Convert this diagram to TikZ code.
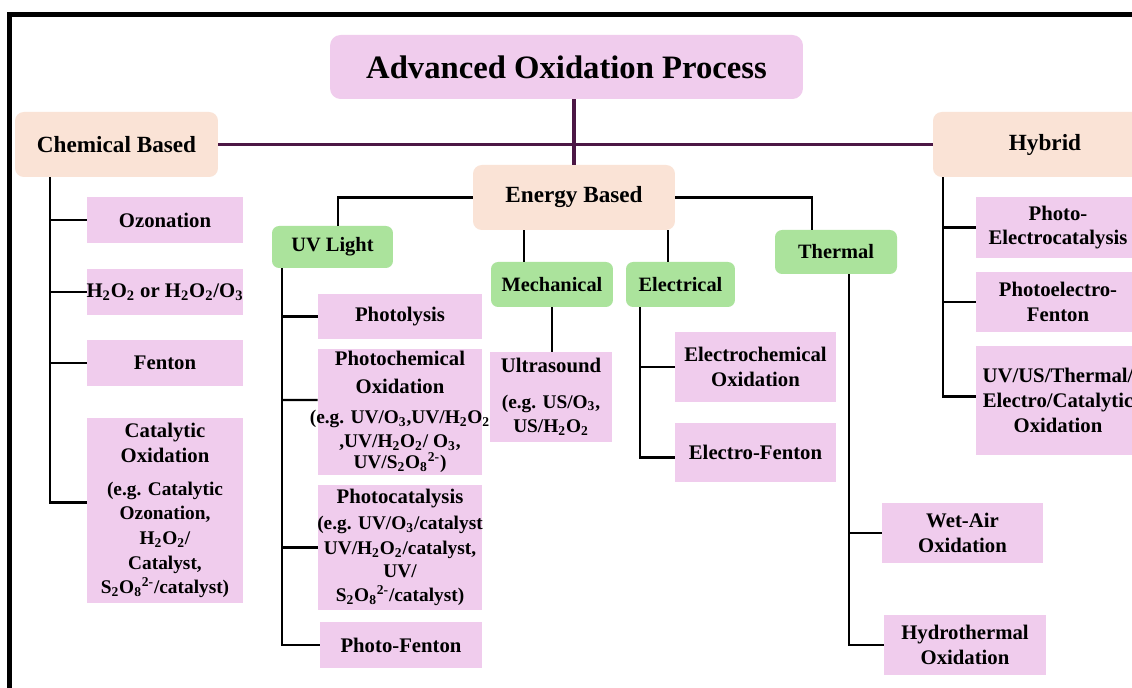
\documentclass[tikz,border=0pt]{standalone}
\usepackage{fontspec}
\setmainfont{Liberation Serif}
\usepackage{xcolor}
\usepackage{tikz}
\usetikzlibrary{positioning,calc}
\definecolor{leafpink}{rgb}{0.94,0.80,0.93}
\definecolor{basepeach}{rgb}{0.98,0.89,0.84}
\definecolor{catgreen}{rgb}{0.67,0.89,0.61}
\definecolor{mainpurple}{rgb}{0.30,0.09,0.27}
\newcommand{\egfont}{\fontsize{11}{13.6}\selectfont}
\tikzset{
  leaf/.style={fill=leafpink, align=center, inner sep=1pt,
    font=\bfseries\fontsize{11.8}{14}\selectfont},
  basebox/.style={fill=basepeach, rounded corners=5pt, align=center,
    font=\bfseries\fontsize{13.2}{15}\selectfont,
    minimum width=4.06cm, minimum height=1.30cm},
  catbox/.style={fill=catgreen, rounded corners=4pt, align=center,
    font=\bfseries\fontsize{11.6}{14}\selectfont},
  link/.style={line width=1.3pt, black},
  mainline/.style={line width=1.8pt, mainpurple}
}
\begin{document}
\begin{tikzpicture}[x=0.02cm, y=-0.02cm]
        \clip[use as bounding box] (0,0) rectangle (1132,688);
        \fill[white] (0,0) rectangle (1132,688);
        \draw[line width=0.1cm] (9.5,720) |- (1170,14.5);

        % heads
        \node[fill=leafpink, rounded corners=6pt, minimum width=9.46cm, minimum height=1.28cm,
          font=\bfseries\fontsize{18.6}{22}\selectfont] (aop) at (566.5,67) {Advanced Oxidation Process};
        \node[basebox] (chem) at (116.5,144.5) {Chemical Based};
        \node[basebox, minimum width=4.48cm] (hybrid) at (1045,144.5) {Hybrid};
        \node[basebox, minimum width=4.04cm] (energy) at (574,197.5) {Energy Based};

        \node[catbox, minimum width=2.42cm, minimum height=0.84cm] (uv) at (332.5,247) {UV Light};
        \node[catbox, minimum width=2.44cm, minimum height=0.90cm] (mech) at (552,284.5) {Mechanical};
        \node[catbox, minimum width=2.18cm, minimum height=0.90cm] (elec) at (680.5,284.5) {Electrical};
        \node[catbox, minimum width=2.44cm, minimum height=0.88cm] (therm) at (836,252) {Thermal};

        % chemical based
        \node[leaf, minimum width=3.12cm, minimum height=0.92cm] (ozon) at (165,220) {Ozonation};
        \node[leaf, inner xsep=-1pt, minimum width=3.12cm, minimum height=0.92cm] (hperox) at (165,292)
          {H\textsubscript{2}O\textsubscript{2} or H\textsubscript{2}O\textsubscript{2}/O\textsubscript{3}};
        \node[leaf, minimum width=3.12cm, minimum height=0.92cm] (fenton) at (165,363) {Fenton};
        \node[leaf, minimum width=3.12cm, minimum height=3.70cm] (catox) at (165,510.5)
          {Catalytic\\Oxidation\\[5pt]\egfont (e.g. Catalytic\\\egfont Ozonation,\\\egfont H\textsubscript{2}O\textsubscript{2}/\\\egfont Catalyst,\\\egfont S\textsubscript{2}O\textsubscript{8}\textsuperscript{2-}/catalyst)};

        % uv light
        \node[leaf, minimum width=3.28cm, minimum height=0.90cm] (photol) at (400,316.5) {Photolysis};
        \node[leaf, inner xsep=-5pt, minimum width=3.28cm, minimum height=2.48cm] (photochem) at (400,412)
          {Photochemical\\[2pt]Oxidation\\[3pt]\egfont (e.g. UV/O\textsubscript{3},UV/H\textsubscript{2}O\textsubscript{2}\\\egfont ,UV/H\textsubscript{2}O\textsubscript{2}/ O\textsubscript{3},\\[-2pt]\egfont UV/S\textsubscript{2}O\textsubscript{8}\textsuperscript{2-})};
        \node[leaf, inner xsep=-2pt, minimum width=3.28cm, minimum height=2.50cm] (photocat) at (400,547.5)
          {Photocatalysis\\[1pt]\egfont (e.g. UV/O\textsubscript{3}/catalyst\\\egfont UV/H\textsubscript{2}O\textsubscript{2}/catalyst,\\[-1pt]\egfont UV/\\\egfont S\textsubscript{2}O\textsubscript{8}\textsuperscript{2-}/catalyst)};
        \node[leaf, minimum width=3.24cm, minimum height=0.92cm] (photofen) at (401,645) {Photo-Fenton};

        % mechanical, electrical
        \node[leaf, minimum width=2.44cm, minimum height=1.80cm] (ultra) at (551,397)
          {Ultrasound\\[6pt]\egfont (e.g. US/O\textsubscript{3},\\\egfont US/H\textsubscript{2}O\textsubscript{2}};
        \node[leaf, minimum width=3.22cm, minimum height=1.40cm] (echem) at (755.5,367) {Electrochemical\\Oxidation};
        \node[leaf, minimum width=3.22cm, minimum height=1.18cm] (efenton) at (755.5,452.5) {Electro-Fenton};

        % thermal
        \node[leaf, minimum width=3.22cm, minimum height=1.20cm] (wetair) at (962.5,533) {Wet-Air\\Oxidation};
        \node[leaf, minimum width=3.24cm, minimum height=1.20cm] (hthermal) at (965,645) {Hydrothermal\\Oxidation};

        % hybrid
        \node[leaf, minimum width=3.28cm, minimum height=1.22cm] (pec) at (1058,227.5) {Photo-\\Electrocatalysis};
        \node[leaf, minimum width=3.28cm, minimum height=1.20cm] (pef) at (1058,302) {Photoelectro-\\Fenton};
        \node[leaf, minimum width=3.28cm, minimum height=2.18cm] (uvus) at (1058,400.5)
          {UV/US/Thermal/\\Electro/Catalytic\\Oxidation};

        % connectors
        \draw[mainline] (chem.east) -- (hybrid.west);
        \draw[mainline] (aop.south -| energy.north) -- (energy.north);

        \coordinate (mechtap) at ([xshift=-0.56cm]mech.north);
        \coordinate (electap) at ([xshift=-0.25cm]elec.north);
        \draw[link] (energy.west) -| ([xshift=0.11cm]uv.north);
        \draw[link] (energy.east) -| ([xshift=-0.48cm]therm.north);
        \draw[link] (energy.south -| mechtap) -- (mechtap);
        \draw[link] (energy.south -| electap) -- (electap);
        \draw[link] (mech.south) -- (mech.south |- ultra.north);

        \coordinate (chemtrunk) at ([xshift=0.70cm]chem.south west);
        \draw[link] (chemtrunk) |- ([yshift=0.16cm]catox.west);
        \foreach \n in {ozon,hperox,fenton}
          \draw[link] (chemtrunk |- \n.west) -- (\n.west);

        \coordinate (uvtrunk) at ([xshift=0.20cm]uv.south west);
        \draw[link] (uvtrunk) |- (photofen.west);
        \draw[link] (uvtrunk |- photochem.west) ++(0,-12) -- ([yshift=0.24cm]photochem.west);
        \foreach \n in {photol,photocat}
          \draw[link] (uvtrunk |- \n.west) -- (\n.west);

        \coordinate (electrunk) at ([xshift=0.28cm]elec.south west);
        \draw[link] (electrunk) |- ([yshift=-0.1cm]efenton.west);
        \draw[link] (electrunk |- echem.west) -- (echem.west);

        \coordinate (thermtrunk) at ([xshift=0.26cm]therm.south);
        \draw[link] (thermtrunk) |- (hthermal.west);
        \draw[link] (thermtrunk |- wetair.west) -- (wetair.west);

        \coordinate (hybtrunk) at ([xshift=0.20cm]hybrid.south west);
        \draw[link] (hybtrunk) |- ([yshift=0.08cm]uvus.west);
        \foreach \n in {pec,pef}
          \draw[link] (hybtrunk |- \n.west) -- (\n.west);
      \end{tikzpicture}
\end{document}
